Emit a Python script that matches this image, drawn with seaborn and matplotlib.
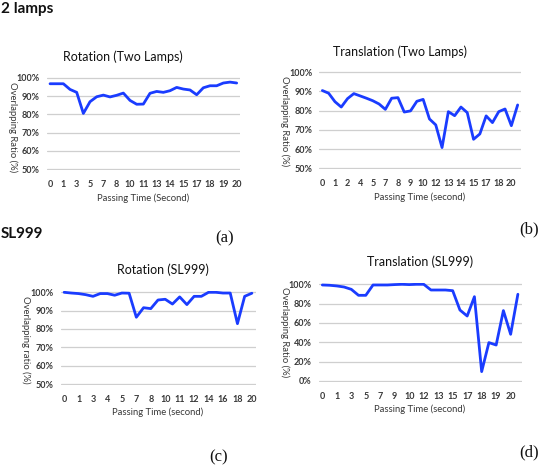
import numpy as np
import pandas as pd
import matplotlib
matplotlib.use("Agg")
import matplotlib.pyplot as plt
import seaborn as sns

sns.set_style("white")
plt.rcParams['font.family'] = ['Lato', 'DejaVu Sans']

# ---------------- data ----------------
rot_two_lamps = [96.7, 96.7, 96.7, 93.6, 92.0, 80.5, 86.9, 89.6, 90.5, 89.5,
                 90.4, 91.6, 87.6, 85.5, 85.6, 91.5, 92.5, 92.0, 92.9, 94.7,
                 93.8, 93.3, 90.7, 94.5, 95.6, 95.6, 97.1, 97.6, 97.1]
rot_two_lamps_ticks = ["0", "1", "3", "5", "7", "8", "10", "11", "13", "14",
                       "15", "17", "18", "19", "20"]

trans_two_lamps = [90.5, 89.1, 84.7, 81.9, 86.3, 88.9, 87.7, 86.5, 85.2, 83.5,
                   80.7, 86.5, 86.8, 79.3, 79.9, 84.9, 85.9, 75.7, 72.6, 60.8,
                   79.5, 77.4, 81.9, 79.0, 65.1, 67.9, 77.3, 73.8, 79.5, 80.9,
                   72.2, 83.0]
trans_two_lamps_ticks = ["0", "1", "2", "4", "5", "7", "8", "9", "10", "12",
                         "13", "14", "15", "17", "18", "20"]

rot_sl999 = [100.0, 99.6, 99.3, 98.7, 97.8, 99.3, 99.3, 98.4, 99.6, 99.5,
             86.4, 91.6, 91.1, 95.8, 96.2, 93.6, 97.5, 93.3, 97.8, 97.8,
             100.0, 100.0, 99.6, 99.6, 82.9, 97.8, 99.5]
rot_sl999_ticks = ["0", "1", "3", "4", "5", "7", "8", "10", "11", "12",
                   "14", "16", "18", "20"]

trans_sl999 = [99.3, 99.0, 98.3, 97.2, 94.8, 88.6, 88.6, 99.3, 99.3, 99.3,
               99.7, 100.0, 99.7, 100.0, 100.0, 94.1, 94.1, 94.1, 93.4, 73.4,
               67.2, 87.2, 9.7, 39.7, 37.2, 72.8, 48.3, 89.7]
trans_sl999_ticks = ["0", "1", "3", "5", "7", "9", "10", "12", "13", "15",
                     "17", "18", "19", "20"]

titles = ["Rotation (Two Lamps)", "Translation (Two Lamps)",
          "Rotation (SL999)", "Translation (SL999)"]
xlabels = ["Passing Time (Second)", "Passing Time (second)",
           "Passing Time (second)", "Passing Time (second)"]
ylabels = ["Overlapping Ratio (%)", "Overlapping Ratio (%)",
           "Overlapping ratio (%)", "Overlapping Ratio (%)"]
panel_tags = ["(a)", "(b)", "(c)", "(d)"]
group_labels = ["2 lamps", "SL999"]

# ---------------- figure ----------------
W, H = 541, 467
fig = plt.figure(figsize=(W / 100, H / 100), dpi=100)

LINE = "#1a3cff"
GRID = "#cfcfcf"
TXT = "#383838"


def px(x, y):
    return x / W, 1 - y / H


def make_axes(x0, x1, ytop, ybot, vmin, vmax, n, pad):
    ppu = (ybot - ytop) / (vmax - vmin)
    top = ytop - pad * ppu
    bot = ybot + pad * ppu
    ax = fig.add_axes([x0 / W, 1 - bot / H, (x1 - x0) / W, (bot - top) / H])
    ax.set_ylim(vmin - pad, vmax + pad)
    ax.set_xlim(-0.5, n - 0.5)
    return ax


specs = [
    (rot_two_lamps, rot_two_lamps_ticks, 46.7, 240.0, 77.7, 169.3, 50, 100, 10),
    (trans_two_lamps, trans_two_lamps_ticks, 319.2, 520.8, 72.3, 168.3, 50, 100, 10),
    (rot_sl999, rot_sl999_ticks, 60.5, 255.5, 292.3, 384.0, 50, 100, 10),
    (trans_sl999, trans_sl999_ticks, 318.7, 521.5, 284.3, 381.0, 0, 100, 20),
]

title_pos = [(123, 57), (400, 52), (163, 270), (420, 262)]
xlabel_pos = [(143, 198), (420, 197), (158, 412.5), (420, 409)]
ylabel_pos = [(13, 127), (285, 121), (26, 340), (285, 332)]
tag_pos = [(225, 238), (529, 229), (219, 457), (529, 452)]

for i, (vals, ticks, x0, x1, yt, yb, vmin, vmax, ystep) in enumerate(specs):
    n = len(vals)
    pad = 0.6 if ystep == 10 else 1.2
    ax = make_axes(x0, x1, yt, yb, vmin, vmax, n, pad)
    df = pd.DataFrame({"t": np.arange(n), "v": vals})
    sns.lineplot(data=df, x="t", y="v", ax=ax, color=LINE, linewidth=2.0)
    ax.set_xlim(-0.5, n - 0.5)
    yt_vals = np.arange(vmin, vmax + 1, ystep)
    ax.set_yticks(yt_vals)
    ax.set_yticklabels([f"{int(v)}%" for v in yt_vals])
    ax.set_xticks(np.arange(0, 2 * len(ticks), 2))
    ax.set_xticklabels(ticks)
    ax.yaxis.grid(True, color=GRID, linewidth=0.9)
    ax.xaxis.grid(False)
    ax.set_axisbelow(True)
    for s in ax.spines.values():
        s.set_visible(False)
    ax.tick_params(axis="both", length=0, labelsize=6.5, labelcolor=TXT)
    ax.tick_params(axis="y", pad=5)
    ax.tick_params(axis="x", pad=7)
    for lab in ax.get_xticklabels() + ax.get_yticklabels():
        lab.set_fontweight("bold")
    ax.set_xlabel("")
    ax.set_ylabel("")

    fig.text(*px(*title_pos[i]), titles[i], ha="center", va="center",
             fontsize=9, color="#111111")
    fig.text(*px(*xlabel_pos[i]), xlabels[i], ha="center", va="center",
             fontsize=6.8, color=TXT)
    fig.text(*px(*ylabel_pos[i]), ylabels[i], ha="center", va="center",
             fontsize=6.8, color=TXT, rotation=270)
    fig.text(*px(*tag_pos[i]), panel_tags[i], ha="center", va="center",
             fontsize=12, color="#111111", family="Liberation Serif")

fig.text(*px(1, 9), group_labels[0], ha="left", va="center",
         fontsize=11, fontweight="bold", color="#111111")
fig.text(*px(1, 234), group_labels[1], ha="left", va="center",
         fontsize=11, fontweight="bold", color="#111111")

fig.savefig("out.png", dpi=100)
